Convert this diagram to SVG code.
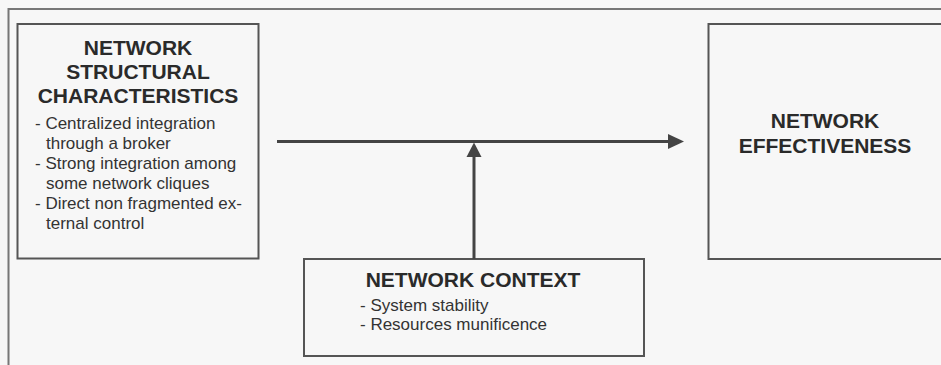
<svg xmlns="http://www.w3.org/2000/svg" width="941" height="365" viewBox="0 0 941 365">
<style>
.box{fill:none;stroke:#555;stroke-width:2}
.frame{fill:none;stroke:#777;stroke-width:2}
.title{font-family:"Liberation Sans",Arial,sans-serif;font-weight:bold;font-size:21px;fill:#2a2a2a;text-anchor:middle}
.item{font-family:"Liberation Sans",Arial,sans-serif;font-size:17px;fill:#333}
.conn{stroke:#444;stroke-width:3;fill:none}
.head{fill:#444}
</style>
<rect width="941" height="365" fill="#f7f7f7"/>
<path class="frame" d="M8.5,365 V9 H941"/>
<g id="structural">
<rect class="box" x="17.5" y="24" width="241" height="234.5"/>
<text class="title" x="138" y="55">NETWORK</text>
<text class="title" x="138" y="79">STRUCTURAL</text>
<text class="title" x="138" y="103">CHARACTERISTICS</text>
<text class="item" x="35" y="129">- Centralized integration</text>
<text class="item" x="46" y="149">through a broker</text>
<text class="item" x="35" y="169">- Strong integration among</text>
<text class="item" x="46" y="189">some network cliques</text>
<text class="item" x="35" y="209">- Direct non fragmented ex-</text>
<text class="item" x="46" y="229">ternal control</text>
</g>
<g id="effectiveness">
<path class="box" d="M945,24 H708.5 V259 H945"/>
<text class="title" x="825" y="128">NETWORK</text>
<text class="title" x="825" y="153">EFFECTIVENESS</text>
</g>
<g id="context">
<rect class="box" x="304" y="259" width="340" height="97"/>
<text class="title" x="473" y="287">NETWORK CONTEXT</text>
<text class="item" x="360" y="311">- System stability</text>
<text class="item" x="360" y="330">- Resources munificence</text>
</g>
<g id="connectors">
<line class="conn" x1="277" y1="141.5" x2="670" y2="141.5"/>
<path class="head" d="M668,134 L684,141.5 L668,149 Z"/>
<line class="conn" x1="474" y1="259" x2="474" y2="155"/>
<path class="head" d="M466.5,157 L474,142.5 L481.5,157 Z"/>
</g>
</svg>
